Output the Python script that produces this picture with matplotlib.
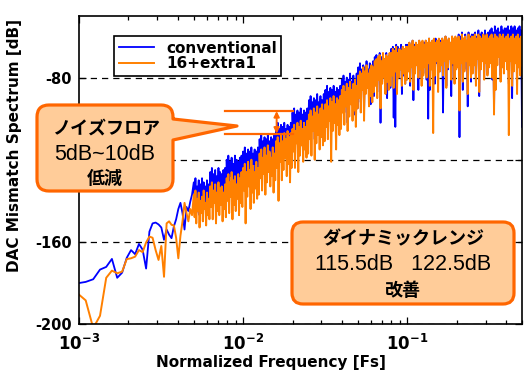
import numpy as np
import matplotlib
matplotlib.use('Agg')
from matplotlib import pyplot as plt
from matplotlib.path import Path
from matplotlib.patches import PathPatch

W, H = 524, 372

# FFT bins (N = 8192); the low part is shown bin by bin
n_fft = 8192
low_bins = np.arange(8, 41)

conv_low = [-180.2, -179.5, -178.2, -173.5, -172.2, -168.3, -177.5, -175.0, -167.8, -164.0,
            -166.0, -161.0, -163.8, -173.0, -155.0, -151.0, -150.6, -151.5, -153.0, -159.0,
            -154.0, -156.5, -158.2, -152.5, -149.0, -144.0, -141.0, -146.0, -154.0, -143.0,
            -145.0, -140.5, -137.0]
extra_low = [-185.0, -188.5, -202.0, -196.0, -177.5, -174.0, -175.3, -174.5, -168.4, -168.0,
             -167.2, -164.0, -165.0, -160.3, -157.4, -158.0, -164.0, -168.8, -162.0, -177.0,
             -151.0, -150.0, -151.7, -152.0, -158.0, -168.0, -157.0, -150.0, -141.0, -146.0,
             -150.0, -144.0, -147.0]

# dense part (0.005 .. 0.5 Fs), 20 per row
conv_high = [
    -131, -141, -129, -146, -133, -138, -130, -147, -132, -140, -129, -144, -131, -137, -133, -145, -130, -139, -132, -143,
    -126, -137, -124, -142, -127, -134, -125, -143, -128, -136, -124, -139, -126, -133, -127, -141, -125, -135, -124, -138,
    -120, -131, -118, -136, -121, -128, -119, -138, -122, -130, -118, -134, -120, -127, -121, -135, -119, -129, -118, -132,
    -116, -126, -114, -131, -117, -123, -115, -132, -116, -125, -114, -129, -117, -122, -115, -130, -116, -124, -114, -127,
    -110, -120, -108, -125, -111, -117, -109, -127, -110, -119, -108, -123, -111, -116, -109, -124, -110, -118, -108, -121,
    -104, -113, -102, -118, -105, -111, -103, -119, -104, -114, -102, -116, -105, -110, -103, -117, -104, -112, -102, -115,
    -97, -107, -95, -112, -98, -104, -96, -115, -97, -108, -95, -110, -98, -103, -96, -113, -97, -106, -95, -109,
    -91, -101, -89, -106, -92, -98, -90, -110, -91, -103, -88, -100, -92, -97, -89, -107, -91, -99, -88, -104,
    -86, -96, -84, -101, -87, -93, -85, -105, -86, -97, -84, -94, -87, -92, -85, -102, -86, -95, -84, -99,
    -81, -91, -79, -97, -82, -88, -80, -102, -81, -93, -78, -89, -82, -87, -79, -98, -81, -90, -78, -95,
    -75, -86, -73, -92, -76, -83, -74, -96, -75, -87, -72, -84, -76, -81, -73, -93, -75, -85, -72, -89,
    -70, -80, -69, -87, -71, -78, -68, -102, -70, -82, -69, -76, -71, -84, -68, -90, -70, -79, -69, -85,
    -66, -78, -65, -99.5, -66, -104, -64, -85, -65, -80, -66, -76, -64, -88, -65, -79, -66, -83, -64, -81,
    -64, -75, -63, -84, -65, -73, -62, -91, -64, -77, -63, -72, -65, -86, -62, -74, -64, -80, -63, -78,
    -63, -74, -62, -81, -64, -100, -61, -86, -63, -75, -62, -70, -64, -83, -61, -73, -63, -79, -62, -77,
    -62, -73, -61, -97, -63, -71, -60, -84, -62, -76, -61, -70, -63, -89, -60, -74, -62, -81, -61, -75,
    -61, -72, -59, -109, -60, -70, -58, -86, -61, -76, -59, -71, -62, -94, -58, -73, -60, -82, -59, -77,
    -59, -70, -58, -83, -60, -68, -57, -89, -59, -74, -58, -69, -60, -80, -57, -72, -59, -78, -58, -66,
    -57, -68, -56, -81, -58, -97, -55, -85, -57, -70, -56, -66, -58, -79, -55, -72, -57, -76, -56, -64,
    -56, -67, -55, -83, -57, -65, -55, -90, -56, -71, -55, -64, -57, -78, -56, -69, -55, -74, -57, -104]
extra_high = [
    -137, -148, -135, -151, -139, -145, -136, -153, -140, -146, -138, -150, -135, -144, -141, -152, -136, -147, -139, -149,
    -133, -143, -131, -149, -135, -141, -132, -151, -136, -145, -131, -147, -134, -142, -133, -150, -136, -144, -132, -148,
    -129, -140, -127, -146, -131, -138, -126, -149, -130, -142, -128, -145, -132, -139, -127, -147, -129, -141, -126, -143,
    -124, -135, -122, -151, -126, -138, -121, -133, -125, -144, -120, -136, -123, -141, -126, -134, -121, -139, -124, -137,
    -117, -129, -115, -135, -119, -127, -114, -137, -118, -131, -113, -126, -116, -133, -119, -128, -114, -136, -117, -130,
    -111, -124, -109, -140, -112, -121, -108, -130, -111, -125, -107, -119, -110, -128, -106, -122, -109, -131, -107, -124,
    -105, -116, -103, -124, -106, -112, -102, -126, -104, -118, -101, -113, -105, -121, -102, -115, -104, -119, -101, -117,
    -98, -110, -96, -118, -99, -106, -95, -120, -97, -112, -94, -108, -98, -115, -95, -109, -93, -113, -96, -111,
    -93, -104, -91, -110, -94, -101, -90, -121, -92, -106, -89, -102, -93, -115, -90, -103, -91, -108, -89, -105,
    -86, -97, -84, -103, -87, -94, -83, -106, -85, -99, -82, -93, -86, -101, -83, -96, -81, -104, -84, -95,
    -79, -90, -77, -97, -78, -86, -75, -101, -77, -88, -74, -85, -78, -94, -76, -89, -74, -92, -75, -87,
    -72, -84, -71, -90, -70, -81, -69, -95, -72, -83, -68, -80, -71, -88, -69, -82, -70, -86, -68, -84,
    -68, -79, -66, -85, -67, -77, -65, -88, -68, -80, -66, -76, -67, -84, -65, -78, -66, -83, -65, -81,
    -65, -77, -63, -82, -64, -75, -62, -86, -65, -78, -63, -74, -64, -80, -62, -76, -63, -84, -62, -79,
    -64, -75, -62, -80, -63, -73, -61, -84, -63, -76, -62, -107, -61, -79, -63, -72, -62, -87, -61, -77,
    -63, -74, -61, -79, -62, -72, -60, -85, -62, -75, -61, -71, -63, -81, -60, -73, -61, -83, -60, -76,
    -61, -75, -60, -96, -62, -73, -59, -82, -61, -77, -60, -72, -62, -88, -59, -74, -61, -80, -60, -78,
    -60, -74, -59, -84, -61, -71, -59, -87, -60, -76, -61, -72, -59, -81, -60, -73, -59, -79, -61, -75,
    -60, -73, -59, -80, -61, -98, -59, -86, -60, -74, -61, -70, -59, -82, -60, -75, -59, -78, -61, -72,
    -60, -76, -59, -108, -61, -72, -60, -84, -59, -77, -61, -73, -60, -88, -59, -75, -61, -79, -60, -74]

series_labels = ['conventional', '16+extra1']
y_ticks = [-200, -160, -120, -80]
y_ticklabels = ['-200', '-160', '', '-80']
x_ticks = [1e-3, 1e-2, 1e-1]
x_ticklabels = [r'$\mathbf{10^{-3}}$', r'$\mathbf{10^{-2}}$', r'$\mathbf{10^{-1}}$']

# noise floor marker (dB levels and frequency span)
floor_hi, floor_lo = -96.3, -107.3
floor_f0, floor_f1, floor_fa = 0.0077, 0.0200, 0.0160

BLUE = '#0000FF'
ORANGE = '#FF8000'
EDGE = '#FF6600'
FILL = '#FFCC99'


def callout_path(x0, y0, x1, y1, r, tip=None):
	# rounded box in pixel coords (y down), optional pointer on the right side
	verts, codes = [], []
	def move(p):
		verts.append(p); codes.append(Path.MOVETO)
	def line(p):
		verts.append(p); codes.append(Path.LINETO)
	def curve(c, p):
		verts.extend([c, p]); codes.extend([Path.CURVE3, Path.CURVE3])
	move((x0 + r, y0))
	line((x1 - r, y0))
	curve((x1, y0), (x1, y0 + r))
	if tip is not None:
		ya, yb, tx, ty = tip
		line((x1, ya)); line((tx, ty)); line((x1, yb))
	line((x1, y1 - r))
	curve((x1, y1), (x1 - r, y1))
	line((x0 + r, y1))
	curve((x0, y1), (x0, y1 - r))
	line((x0, y0 + r))
	curve((x0, y0), (x0 + r, y0))
	verts.append((x0 + r, y0)); codes.append(Path.CLOSEPOLY)
	return Path([(x / W, 1 - y / H) for x, y in verts], codes)


plt.rcParams['font.family'] = ['DejaVu Sans']
fig = plt.figure(figsize=(W / 100, H / 100), dpi=100)
ax = fig.add_axes([79 / W, 1 - 324 / H, (522 - 79) / W, (324 - 16) / H])

freq = np.concatenate([low_bins / n_fft, np.geomspace(41 / n_fft, 0.5, len(conv_high))])
ax.plot(freq, conv_low + conv_high, color=BLUE, lw=1.3, label=series_labels[0], zorder=2)
ax.plot(freq, extra_low + extra_high, color=ORANGE, lw=1.4, label=series_labels[1], zorder=2.1)

ax.set_xscale('log')
ax.set_xlim(1e-3, 0.5)
ax.set_ylim(-200, -50)
ax.set_yticks(y_ticks)
ax.set_yticklabels(y_ticklabels, fontsize=10.5, fontweight='bold')
ax.set_xticks(x_ticks)
ax.set_xticklabels(x_ticklabels, fontsize=12)
ax.tick_params(which='both', direction='in', top=True, right=True, width=0.9)
ax.tick_params(which='major', length=5, pad=5)
ax.tick_params(which='minor', length=3)
ax.tick_params(axis='x', pad=7)
for s in ax.spines.values():
	s.set_linewidth(1.2)
ax.grid(axis='y', ls=(0, (5, 4)), color='k', lw=0.9)

ax.set_xlabel('Normalized Frequency [Fs]', fontsize=11, fontweight='bold')
ax.xaxis.set_label_coords(0.433, -0.10)
ax.set_ylabel('DAC Mismatch Spectrum [dB]', fontsize=11, fontweight='bold')
ax.yaxis.set_label_coords(-0.129, 0.578)

leg = ax.legend(loc='upper left', bbox_to_anchor=((114 - 79) / 443, (324 - 36) / 308),
                borderaxespad=0, fancybox=False, framealpha=1, edgecolor='k',
                prop={'weight': 'bold', 'size': 11}, handlelength=2.3,
                handletextpad=0.8, labelspacing=0.05, borderpad=0.3)
leg.get_frame().set_linewidth(1.2)

# noise floor difference marker
ax.plot([floor_f0, floor_f1], [floor_hi, floor_hi], color=EDGE, lw=1.6, zorder=3)
ax.plot([floor_f0, floor_f1], [floor_lo, floor_lo], color=EDGE, lw=1.6, zorder=3)
ax.annotate('', xy=(floor_fa, floor_hi), xytext=(floor_fa, floor_lo),
            arrowprops=dict(arrowstyle='<|-|>', color=EDGE, lw=1.4,
                            mutation_scale=8, shrinkA=0, shrinkB=0), zorder=3)

# callouts
fig.add_artist(PathPatch(callout_path(37, 105, 173, 191, 12, tip=(119, 140, 237, 126)),
                         transform=fig.transFigure, facecolor=FILL, edgecolor=EDGE,
                         lw=2.3, joinstyle='round'))
fig.add_artist(PathPatch(callout_path(292, 222, 514, 304, 11),
                         transform=fig.transFigure, facecolor=FILL, edgecolor=EDGE,
                         lw=2.3, joinstyle='round'))

jp = ['Noto Sans CJK JP', 'DejaVu Sans']
lat = ['Liberation Sans', 'DejaVu Sans']
fig.text(106 / W, 1 - 128 / H, 'ノイズフロア', family=jp, fontsize=13, fontweight='bold',
         ha='center', va='center')
fig.text(105 / W, 1 - 154 / H, '5dB~10dB', family=lat, fontsize=15.5,
         ha='center', va='center')
fig.text(105 / W, 1 - 178 / H, '低減', family=jp, fontsize=13, fontweight='bold',
         ha='center', va='center')
fig.text(403 / W, 1 - 239 / H, 'ダイナミックレンジ', family=jp, fontsize=13, fontweight='bold',
         ha='center', va='center')
fig.text(403 / W, 1 - 265 / H, '115.5dB   122.5dB', family=lat, fontsize=15.5,
         ha='center', va='center')
fig.text(403 / W, 1 - 291 / H, '改善', family=jp, fontsize=13, fontweight='bold',
         ha='center', va='center')

fig.savefig('out.png', dpi=100)
